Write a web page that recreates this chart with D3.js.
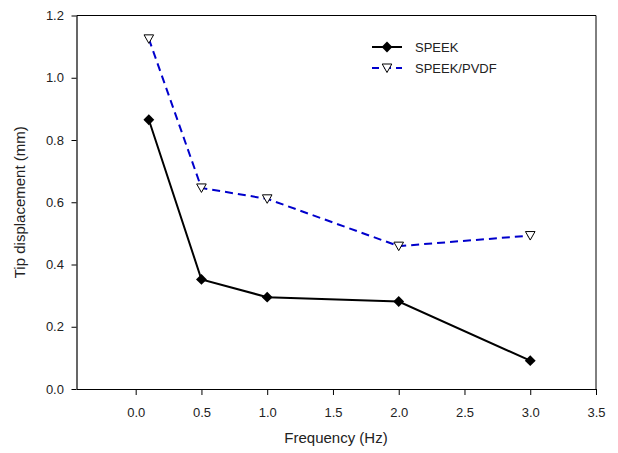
<!DOCTYPE html>
<html>
<head>
<meta charset="utf-8">
<script src="https://cdn.jsdelivr.net/npm/d3@7"></script>
<style>
  body { margin: 0; background: #fff; }
  text { font-family: Arial, "Liberation Sans", sans-serif; fill: #222; }
</style>
</head>
<body>
<svg id="chart" width="618" height="453"></svg>
<script>
// data
const freq = [0.1, 0.5, 1.0, 2.0, 3.0];
const speek = [0.865, 0.352, 0.295, 0.281, 0.091];
const speekPvdf = [1.125, 0.646, 0.611, 0.459, 0.493];
const xTicks = [0, 0.5, 1.0, 1.5, 2.0, 2.5, 3.0, 3.5];
const yTicks = [0, 0.2, 0.4, 0.6, 0.8, 1.0, 1.2];

const svg = d3.select("#chart");
const mLeft = 76.5, mRight = 596, mTop = 15.5, mBottom = 389;

const x = d3.scaleLinear().domain([-0.45, 3.5]).range([mLeft, mRight]);
const y = d3.scaleLinear().domain([0, 1.2]).range([mBottom, mTop]);

// frame: top and right lines
svg.append("line").attr("x1", mLeft).attr("x2", mRight).attr("y1", mTop).attr("y2", mTop)
    .attr("stroke", "#000").attr("stroke-width", 1);
svg.append("line").attr("x1", mRight).attr("x2", mRight).attr("y1", mTop).attr("y2", mBottom)
    .attr("stroke", "#000").attr("stroke-width", 1);

const xAxis = svg.append("g")
    .attr("transform", `translate(0,${mBottom})`)
    .call(d3.axisBottom(x).tickValues(xTicks).tickFormat(d3.format(".1f")).tickSize(6).tickSizeOuter(0));
const yAxis = svg.append("g")
    .attr("transform", `translate(${mLeft},0)`)
    .call(d3.axisLeft(y).tickValues(yTicks).tickFormat(d3.format(".1f")).tickSize(5).tickSizeOuter(0));

[xAxis, yAxis].forEach(g => {
  g.select(".domain").attr("stroke", "#000").attr("stroke-width", 1.2);
  g.selectAll(".tick line").attr("stroke", "#000");
  g.selectAll(".tick text").style("font-size", "13px").attr("fill", "#222");
});
xAxis.selectAll(".tick text").attr("dy", "1.45em");
yAxis.selectAll(".tick text").attr("dx", "-0.35em");

// axis titles
svg.append("text")
    .attr("x", 336).attr("y", 443)
    .attr("text-anchor", "middle")
    .style("font-size", "15px")
    .text("Frequency (Hz)");
svg.append("text")
    .attr("transform", `translate(25,${(mTop + mBottom) / 2}) rotate(-90)`)
    .attr("text-anchor", "middle")
    .style("font-size", "15px")
    .text("Tip displacement (mm)");

const line = d3.line().x(d => x(d[0])).y(d => y(d[1]));
const diamond = d3.symbol().type(d3.symbolDiamond2).size(75);
const tri = "M-4.8,-4L4.8,-4L0,4.5Z";

// SPEEK/PVDF series
svg.append("path")
    .datum(d3.zip(freq, speekPvdf))
    .attr("d", line)
    .attr("fill", "none")
    .attr("stroke", "#0000cc")
    .attr("stroke-width", 2)
    .attr("stroke-dasharray", "8,5");

// SPEEK series
svg.append("path")
    .datum(d3.zip(freq, speek))
    .attr("d", line)
    .attr("fill", "none")
    .attr("stroke", "#000")
    .attr("stroke-width", 2);

svg.selectAll(".dia")
    .data(d3.zip(freq, speek))
    .enter()
    .append("path")
    .attr("class", "dia")
    .attr("transform", d => `translate(${x(d[0])},${y(d[1])})`)
    .attr("d", diamond)
    .attr("fill", "#000");

svg.selectAll(".tri")
    .data(d3.zip(freq, speekPvdf))
    .enter()
    .append("path")
    .attr("class", "tri")
    .attr("transform", d => `translate(${x(d[0])},${y(d[1])})`)
    .attr("d", tri)
    .attr("fill", "#fff")
    .attr("stroke", "#000")
    .attr("stroke-width", 1);

// legend
const legend = svg.append("g").attr("transform", "translate(372,47)");
legend.append("line").attr("x1", 0).attr("x2", 30).attr("y1", 0).attr("y2", 0)
    .attr("stroke", "#000").attr("stroke-width", 2);
legend.append("path").attr("transform", "translate(15,0)").attr("d", diamond).attr("fill", "#000");
legend.append("text").attr("x", 43).attr("y", 5).style("font-size", "13px").text("SPEEK");

legend.append("line").attr("x1", 0).attr("x2", 30).attr("y1", 21).attr("y2", 21)
    .attr("stroke", "#0000cc").attr("stroke-width", 2).attr("stroke-dasharray", "7,5");
legend.append("path").attr("transform", "translate(15,21)").attr("d", tri)
    .attr("fill", "#fff").attr("stroke", "#000");
legend.append("text").attr("x", 43).attr("y", 26).style("font-size", "13px").text("SPEEK/PVDF");
</script>
</body>
</html>
